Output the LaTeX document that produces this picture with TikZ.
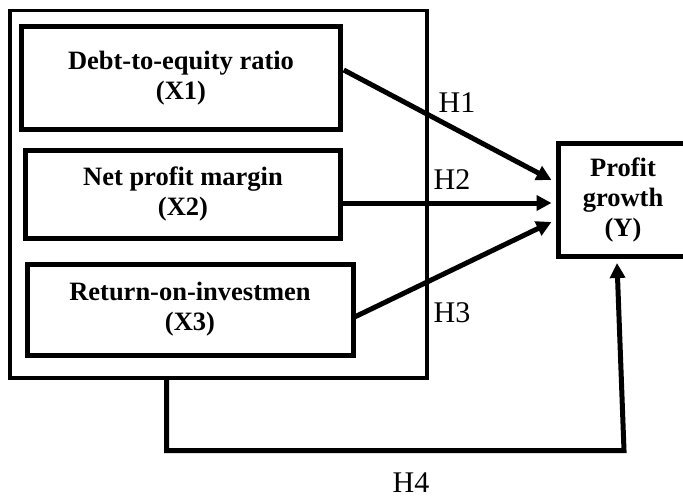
\documentclass[tikz,border=0pt]{standalone}
\usepackage{fontspec}
\setmainfont{Liberation Serif}
\usetikzlibrary{positioning,calc,arrows.meta}

\tikzset{
	varbox/.style={draw,line width=5pt,inner sep=0pt,align=center,
		font=\bfseries\fontsize{26.5}{30}\selectfont},
	hyp/.style={-{Triangle[length=15pt,width=15pt]},line width=5pt},
	hlabel/.style={font=\fontsize{30}{36}\selectfont}
}

\begin{document}
\begin{tikzpicture}[x=1pt,y=-1pt]
\clip (0,0) rectangle (683,498);

% outer frame around the three predictors
\node[draw,line width=3.5pt,minimum width=417pt,minimum height=367.5pt](frame) at (218.5,194.25){};

\node[varbox,minimum width=318.5pt,minimum height=103.5pt](x1) at (181,78){Debt-to-equity ratio\\(X1)};
\node[varbox,minimum width=315.5pt,minimum height=88pt](x2) at (183,194){Net profit margin\\(X2)};
\node[varbox,minimum width=326pt,minimum height=91pt](x3) at (190,309.5){Return-on-investmen\\(X3)};
\node[varbox,minimum width=130pt,minimum height=113pt](y) at (623,200){Profit\\growth\\(Y)};

\draw[hyp]($(x1.east)+(1,-8)$)--($(y.west)+(-4,-20)$);
\draw[hyp]($(x2.east)+(0,9)$)--($(y.west)+(-4,3)$);
\draw[hyp]($(x3.east)+(-3,8.5)$)--($(y.west)+(-4,22)$);

\coordinate(c1) at ($(frame.south)+(-52,0)$);
\coordinate(c2) at (c1|-0,450.5);
\coordinate(c3) at (624,450.5);
\draw[hyp](c1)--(c2)--(c3)--($(y.south)+(-6,4)$);

\node[hlabel](h1) at (457,103){H1};
\node[hlabel](h2) at (452,180){H2};
\node[hlabel](h3) at (452,313){H3};
\node[hlabel](h4) at (411,483){H4};
\end{tikzpicture}
\end{document}
